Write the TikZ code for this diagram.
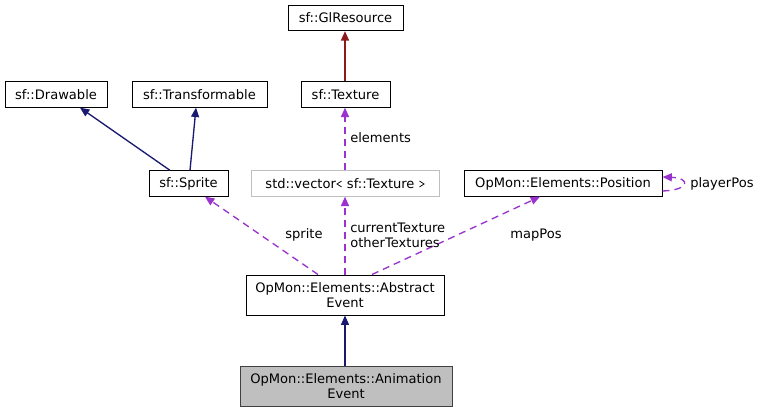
\documentclass[tikz,border=0pt]{standalone}
\usepackage{fontspec}
\setmainfont{DejaVu Sans}
\usetikzlibrary{arrows.meta,calc}
\definecolor{edgeblue}{HTML}{191970}
\definecolor{edgepurple}{HTML}{9A32CD}
\definecolor{edgered}{HTML}{8B1A1A}
\definecolor{boxgray}{HTML}{BFBFBF}
\definecolor{boxdark}{HTML}{404040}
\tikzset{
  cls/.style={draw=black, line width=0.75pt, rectangle, inner sep=0pt, minimum height=19pt,
    font=\fontsize{9.8}{11.5}\selectfont, align=center, fill=white},
  cls2/.style={cls, minimum height=30pt},
  inh/.style={draw=edgeblue, line width=1pt, -{Triangle[length=7pt,width=6pt]}, color=edgeblue},
  inhred/.style={draw=edgered, line width=1pt, -{Triangle[length=7pt,width=6pt]}, color=edgered},
  usage/.style={draw=edgepurple, line width=1pt, dash pattern=on 5.25pt off 3.75pt, -{Triangle[length=7pt,width=6pt]}, color=edgepurple},
  lbl/.style={font=\fontsize{9.8}{11.5}\selectfont, inner sep=0pt, align=left}
}
\begin{document}
\begin{tikzpicture}[x=0.75pt,y=-0.75pt]
\useasboundingbox (0,0) rectangle (761,412);
\node[cls, minimum width=86.25pt] (glres) at (345.5,18) {sf::GlResource};
\node[cls, minimum width=76.5pt] (drawable) at (56,94.5) {sf::Drawable};
\node[cls, minimum width=101.25pt] (transf) at (199.5,94.5) {sf::Transformable};
\node[cls, minimum width=66.75pt] (texture) at (345.5,94.5) {sf::Texture};
\node[cls, minimum width=59.25pt] (sprite) at (188.5,183.5) {sf::Sprite};
\node[cls, draw=boxgray, minimum width=141pt] (vector) at (345.5,183.5) {std::vector\texttt{<} sf::Texture \texttt{>}};
\node[cls, minimum width=148.5pt] (position) at (563,183.5) {OpMon::Elements::Position};
\node[cls2, minimum width=148.5pt] (abstract) at (345,295) {OpMon::Elements::Abstract\\Event};
\node[cls2, fill=boxgray, draw=boxdark, minimum width=159pt] (anim) at (346,386) {OpMon::Elements::Animation\\Event};

\draw[inhred] ($(texture.north)+(-0.5,0)$) -- ($(glres.south)+(-0.5,0)$);
\draw[inh] ($(sprite.north)+(-18.5,0)$) -- ($(drawable.south)+(24,0)$);
\draw[inh] ($(sprite.north)+(1.5,0)$) -- ($(transf.south)+(-3.5,0)$);
\draw[inh] ($(anim.north)+(-1,0)$) -- (abstract.south);

\draw[usage] ($(vector.north)+(-0.5,0)$) -- ($(texture.south)+(-0.5,0)$);
\draw[usage] ($(abstract.north)+(-27,0)$) -- ($(sprite.south)+(16.5,0)$);
\draw[usage] (abstract.north) -- ($(vector.south)+(-0.5,0)$);
\draw[usage] ($(abstract.north)+(27,0)$) -- ($(position.south)+(-23,0)$);
\draw[usage] ($(position.east)+(0,7.5)$) .. controls +(28,-1) and +(28,1) .. ($(position.east)+(0,-6.5)$);

\node[lbl, anchor=west] (lelements) at (350,138) {elements};
\node[lbl] (lsprite) at (304,235) {sprite};
\node[lbl, anchor=west] (lcur) at (350,235) {currentTexture\\otherTextures};
\node[lbl] (lmap) at (536,235) {mapPos};
\node[lbl, anchor=west] (lplayer) at (690,184) {playerPos};
\end{tikzpicture}
\end{document}
